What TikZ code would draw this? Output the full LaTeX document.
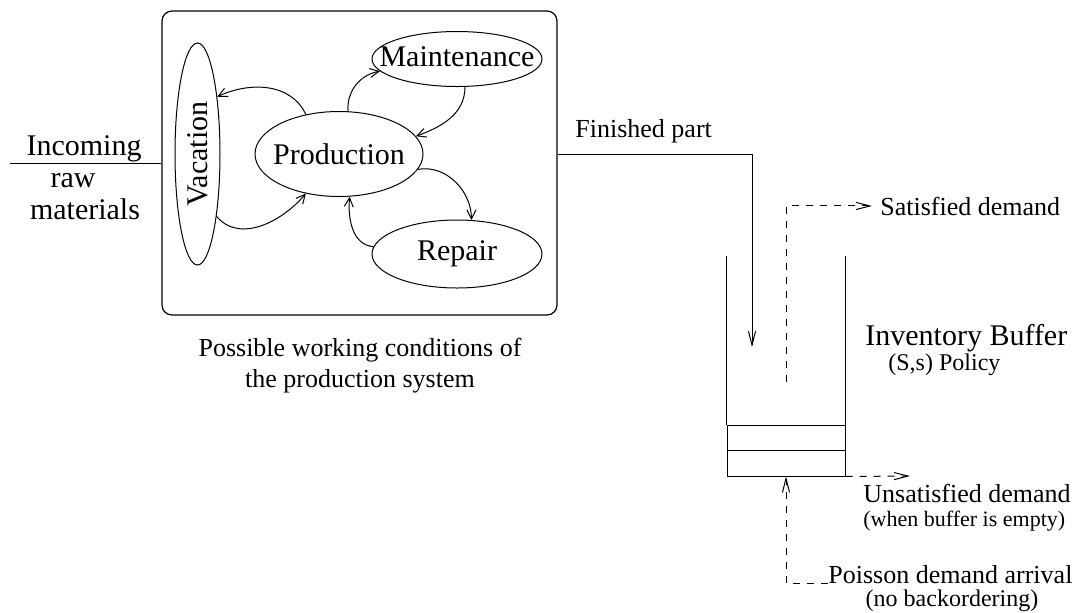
\documentclass[tikz,border=0pt]{standalone}
\usepackage{fontspec}
\setmainfont{Liberation Serif}
\usetikzlibrary{arrows.meta,shapes.geometric,calc}
\newcommand{\txtbig}{\fontsize{15}{18}\selectfont}
\newcommand{\txtmid}{\fontsize{13}{15.5}\selectfont}
\newcommand{\txtpar}{\fontsize{12}{14}\selectfont}
\newcommand{\txtsml}{\fontsize{11}{13}\selectfont}
\tikzset{
  condition/.style={
    draw, ellipse, inner sep=0pt, line width=.5pt, font=\txtbig
  },
  sysbox/.style={
    draw, rounded corners=5pt, line width=.6pt,
    minimum width=197.5pt, minimum height=152pt
  },
  cell/.style={
    draw, line width=.5pt, minimum width=59pt, minimum height=25.5pt
  },
  caption/.style={inner sep=0pt, font=\txtmid},
  wall/.style={line width=.5pt},
  switchflow/.style={-{Straight Barb[length=4.5pt,width=4.5pt]}, line width=.5pt},
  flow/.style={-{Straight Barb[length=7pt,width=3.6pt]}, line width=.5pt},
  demand/.style={flow, dash pattern=on 3.5pt off 3.5pt}
}

\begin{document}
\begin{tikzpicture}[x=0.5pt,y=-0.5pt]
  \useasboundingbox (0,0) rectangle (1083,612);

  % Production system and its working conditions
  \node[sysbox] (sys) at (359.5,163) {};
  \node[condition, minimum width=84pt, minimum height=42.5pt] (prod) at (339,154)
    {\makebox[0pt]{Production}};
  \node[condition, minimum width=85pt, minimum height=27.5pt] (maint) at (457,59)
    {\makebox[0pt]{\raisebox{2pt}{Maintenance}}};
  \node[condition, minimum width=85pt, minimum height=34pt] (rep) at (457,254)
    {\makebox[0pt]{Repair}};
  \node[condition, minimum width=22.5pt, minimum height=111pt] (vac) at (197.5,154)
    {\rotatebox{90}{Vacation}};
  \node[caption, anchor=north, align=center] (syscap) at (360,338)
    {Possible working conditions of\\the production system};

  % Switching between working conditions
  \draw[switchflow] (prod.130) to[out=115,in=25] (vac.71);
  \draw[switchflow] (vac.-73) to[out=-50,in=-130] (prod.230);
  \draw[switchflow] (prod.78) to[out=95,in=190] (maint.189);
  \draw[switchflow] (maint.-74) to[out=-90,in=20] (prod.13);
  \draw[switchflow] (prod.-11) to[out=10,in=90] (rep.67);
  \draw[switchflow] (rep.175) to[out=175,in=-95] (prod.-76);

  % Raw material input
  \coordinate (rawin) at (10,163);
  \draw[wall] (rawin) -- (sys.west);
  \node[caption, font=\txtbig, anchor=base] (incoming) at (84,155) {Incoming};
  \node[caption, font=\txtbig, anchor=base] (raw) at (73,187) {raw};
  \node[caption, font=\txtbig, anchor=base] (materials) at (85,219) {materials};

  % Inventory buffer
  \node[cell] (cells) at (786,450.5) {};
  \draw[wall] (cells.west) -- (cells.east);
  \coordinate (walltop) at (786,256);
  \draw[wall] (cells.north west) -- (cells.north west |- walltop);
  \draw[wall] (cells.north east) -- (cells.north east |- walltop);
  \node[caption, font=\txtbig, anchor=base west] (invbuf) at (865,345) {Inventory Buffer};
  \node[caption, font=\txtpar, anchor=base west] (policy) at (888,370) {(S,s) Policy};

  % Finished parts go into the buffer
  \coordinate (partin) at (752,347);
  \draw[flow] (sys.east |- prod) -| (partin);
  \node[caption, anchor=base west] (finished) at (575,137) {Finished part};

  % Demand side
  \node[caption, anchor=base west] (sat) at (880,215) {Satisfied demand};
  \coordinate (satfrom) at (786,382);
  \draw[demand] (satfrom) |- ([xshift=-4pt]sat.west);
  \node[caption, anchor=base west] (unsat) at (863,502) {Unsatisfied demand};
  \node[caption, font=\txtsml, anchor=base west] (empty) at (863,526)
    {(when buffer is empty)};
  \coordinate (unsatend) at (910,476);
  \draw[demand] (cells.south east) -- (unsatend);
  \node[caption, anchor=base west] (poisson) at (828,583) {Poisson demand arrival};
  \node[caption, font=\txtpar, anchor=base] (noback) at (952,606) {(no backordering)};
  \draw[demand] (poisson.base west) -| (cells.south);
\end{tikzpicture}
\end{document}
